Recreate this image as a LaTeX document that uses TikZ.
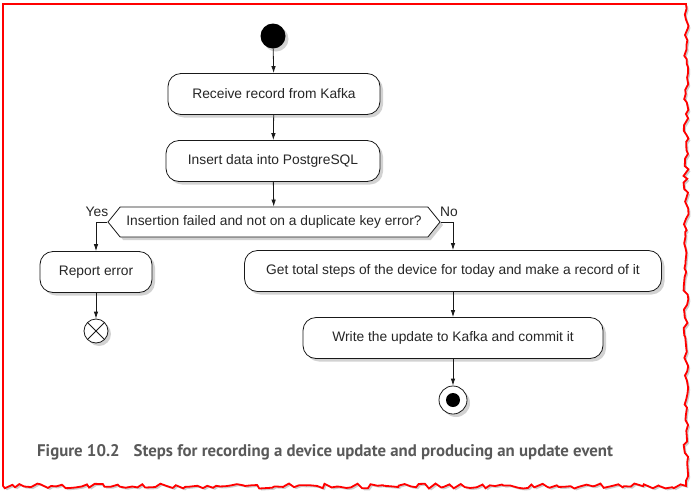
\documentclass[tikz,border=0pt]{standalone}
\usepackage{fontspec}
\setmainfont{Liberation Sans}
\newfontfamily\capfont{PT Sans}
\usetikzlibrary{shapes.symbols,shadows,arrows.meta,decorations.pathmorphing,calc}
\begin{document}
\begin{tikzpicture}[x=1pt,y=-1pt,
  act/.style={draw=black!90,line width=0.8pt,rounded corners=13pt,fill=white,minimum height=41pt,
    font=\fontsize{13.8}{15}\selectfont,text=black!85,drop shadow={shadow xshift=3pt,shadow yshift=-3pt,opacity=0.35}},
  flow/.style={draw=black!90,line width=0.8pt,-{Latex[length=7pt,width=4.5pt]}},
  lbl/.style={font=\fontsize{13.8}{15}\selectfont,text=black!85,inner sep=1pt}]
\useasboundingbox (0,0) rectangle (697,499);
% frame
\fill[white] (0,0) rectangle (697,499);
\pgfmathsetseed{7}
\path[fill=white,draw=red,line width=1.8pt,
  drop shadow={shadow xshift=2pt,shadow yshift=-2pt,opacity=0.4}]
  (3,486) -- (3,4) -- (686,4)
  decorate[decoration={random steps,segment length=5pt,amplitude=2.5pt}]{ -- (686,486) -- (3,486)};
% nodes
\node[circle,fill=black,minimum size=25pt,inner sep=0pt,drop shadow={shadow xshift=3pt,shadow yshift=-3pt,opacity=0.35}] (start) at (273,36) {};
\node[act,minimum width=212pt] (recv) at (274,94) {Receive record from Kafka};
\node[act,minimum width=214pt] (ins) at (273,161) {Insert data into PostgreSQL};
\node[signal,signal to=west and east,signal pointer angle=102,draw=black!90,line width=0.8pt,fill=white,
  minimum height=30pt,minimum width=332pt,inner xsep=1pt,font=\fontsize{13.8}{15}\selectfont,text=black!85,
  drop shadow={shadow xshift=3pt,shadow yshift=-3pt,opacity=0.35}] (dec) at (274,222) {Insertion failed and not on a duplicate key error?};
\node[act,minimum width=112pt] (rep) at (96,272) {Report error};
\node[circle,draw=black!90,line width=0.8pt,fill=white,minimum size=24pt,inner sep=0pt,
  drop shadow={shadow xshift=3pt,shadow yshift=-3pt,opacity=0.35},
  path picture={\draw[black!90,line width=0.8pt] (path picture bounding box.south west) -- (path picture bounding box.north east)
    (path picture bounding box.north west) -- (path picture bounding box.south east);}] (xend) at (96,331) {};
\node[act,minimum width=417pt] (steps) at (453,271) {Get total steps of the device for today and make a record of it};
\node[act,minimum width=300pt] (write) at (453,338) {Write the update to Kafka and commit it};
\node[circle,draw=black!90,line width=0.8pt,fill=white,minimum size=28pt,inner sep=0pt,
  drop shadow={shadow xshift=3pt,shadow yshift=-3pt,opacity=0.35}] (fin) at (453,400) {};
\node[circle,fill=black,minimum size=14pt,inner sep=0pt] (fincore) at (fin) {};
% labels
\node[lbl] (yes) at (97,212) {Yes};
\node[lbl] (no) at (449,212) {No};
% connectors
\draw[flow] (start) -- (recv);
\draw[flow] (recv) -- (ins);
\draw[flow] (ins) -- (dec);
\draw[flow] (dec.west) -| (rep.north);
\draw[flow] (dec.east) -| (steps.north);
\draw[flow] (rep) -- (xend);
\draw[flow] (steps) -- (write);
\draw[flow] (write) -- (fin);
% caption
\node[anchor=west,font=\capfont\bfseries\fontsize{16.8}{18}\selectfont,text=black!65,inner sep=0pt] (cap) at (37,452)
  {Figure 10.2\hspace{14pt}Steps for recording a device update and producing an update event};
\end{tikzpicture}
\end{document}
